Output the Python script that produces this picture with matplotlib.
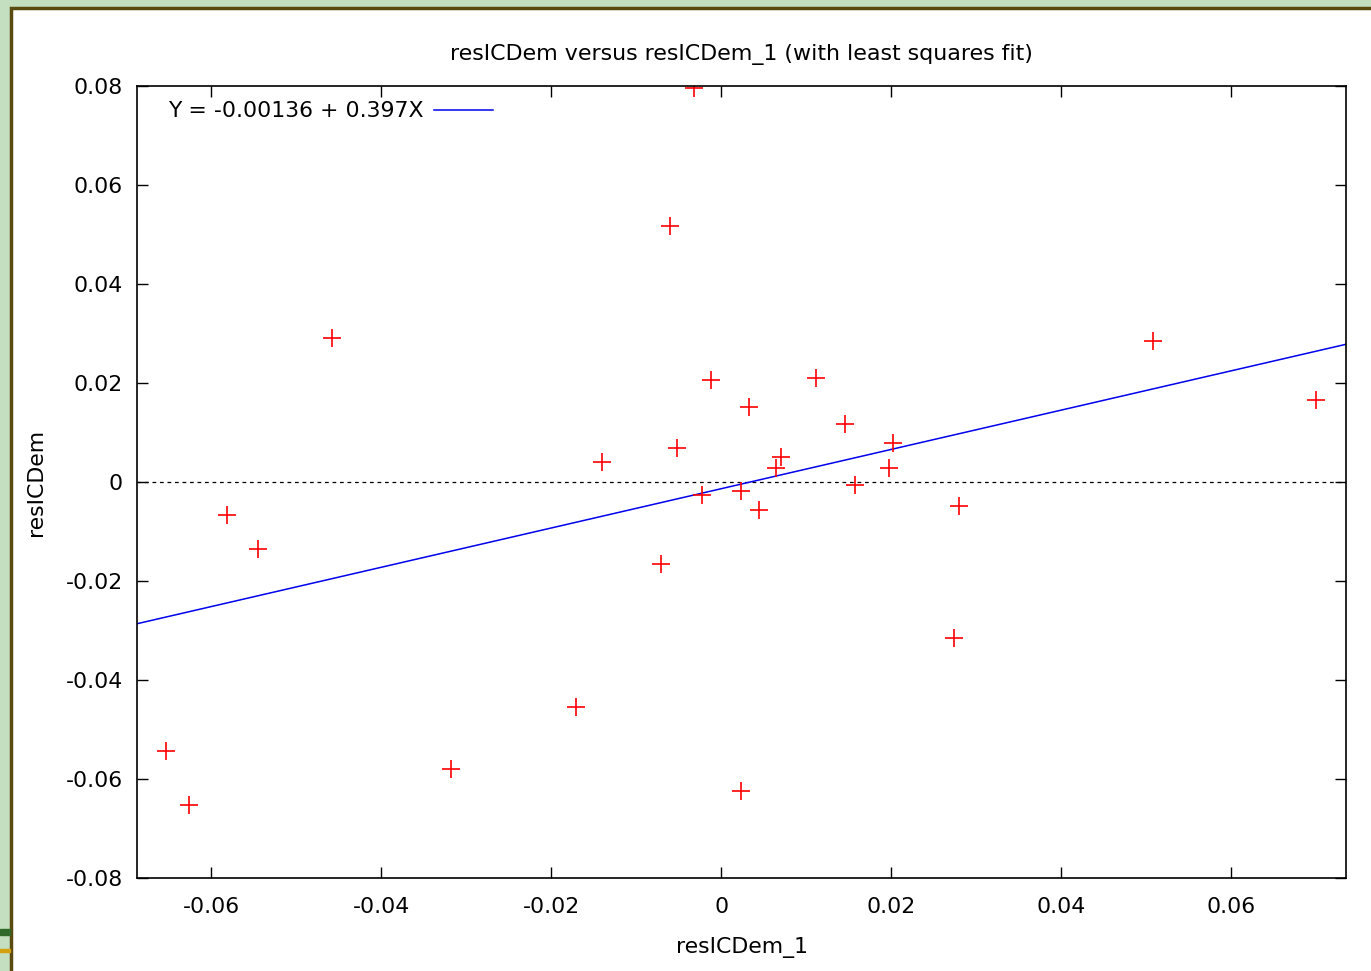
import numpy as np
import matplotlib.pyplot as plt
from matplotlib.patches import Rectangle

# lagged residual (x) vs residual (y)
res_lag = [-0.0032, -0.0060, -0.0458, 0.0508, -0.0012, 0.0112, 0.0033, 0.0700,
           0.0146, -0.0052, -0.0140, 0.0202, 0.0071, 0.0064, 0.0198, 0.0158,
           -0.0023, 0.0023, 0.0045, 0.0280, -0.0581, -0.0545, -0.0071, 0.0274,
           -0.0171, -0.0653, -0.0318, 0.0023, -0.0626]
res = [0.0796, 0.0518, 0.0290, 0.0284, 0.0207, 0.0210, 0.0152, 0.0165,
       0.0118, 0.0069, 0.0040, 0.0078, 0.0051, 0.0029, 0.0029, -0.0007,
       -0.0027, -0.0019, -0.0057, -0.0048, -0.0066, -0.0135, -0.0166, -0.0315,
       -0.0455, -0.0543, -0.0579, -0.0625, -0.0652]

intercept = -0.00136
slope = 0.397

xticks = [-0.06, -0.04, -0.02, 0, 0.02, 0.04, 0.06]
yticks = [-0.08, -0.06, -0.04, -0.02, 0, 0.02, 0.04, 0.06, 0.08]

plt.rcParams["font.family"] = "DejaVu Sans"
plt.rcParams["font.size"] = 15.8

fig = plt.figure(figsize=(13.71, 9.71), dpi=100)
fig.patch.set_facecolor("#c3dfbf")

# window frame around the plot (screenshot look)
fig.patches.append(Rectangle((11 / 1371, -0.05), 1.05, 1.05 - 8 / 971,
                             transform=fig.transFigure, facecolor="white",
                             edgecolor="#5a4a10", linewidth=2.5, zorder=-10))
fig.patches.append(Rectangle((0, 1 - 935 / 971), 10 / 1371, 6 / 971,
                             transform=fig.transFigure, color="#2f6a2a", zorder=-10))
fig.patches.append(Rectangle((0, 1 - 952 / 971), 10 / 1371, 3 / 971,
                             transform=fig.transFigure, color="#d4a010", zorder=-10))

ax = fig.add_axes([137 / 1371, 1 - 878 / 971, (1346 - 137) / 1371, (878 - 86) / 971])

xmin, xmax = -0.0687, 0.0735
ax.set_xlim(xmin, xmax)
ax.set_ylim(-0.08, 0.08)

ax.axhline(0, color="black", linestyle=(0, (3, 3)), linewidth=0.9)

xs = np.array([xmin, xmax])
ax.plot(xs, intercept + slope * xs, color="#0000ee", linewidth=1.1,
        label="Y = -0.00136 + 0.397X")
ax.plot(res_lag, res, linestyle="none", marker="+", markersize=13,
        markeredgewidth=1.2, color="#ff0000")

ax.set_xticks(xticks)
ax.set_xticklabels(["-0.06", "-0.04", "-0.02", "0", "0.02", "0.04", "0.06"])
ax.set_yticks(yticks)
ax.set_yticklabels(["-0.08", "-0.06", "-0.04", "-0.02", "0", "0.02", "0.04", "0.06", "0.08"])
ax.tick_params(direction="in", length=8, width=1, top=True, right=True)
ax.tick_params(axis="x", pad=14)
ax.tick_params(axis="y", pad=10)
for s in ax.spines.values():
    s.set_linewidth(1.2)

ax.set_title("resICDem versus resICDem_1 (with least squares fit)", fontsize=15.9, pad=19)
ax.set_xlabel("resICDem_1", labelpad=14)
ax.set_ylabel("resICDem", labelpad=14)

ax.legend(loc="upper left", frameon=False, markerfirst=False, handlelength=2.7,
          handletextpad=0.45, borderaxespad=0.3, bbox_to_anchor=(0.013, 1.0))

fig.savefig("out.png", dpi=100, facecolor=fig.get_facecolor())
